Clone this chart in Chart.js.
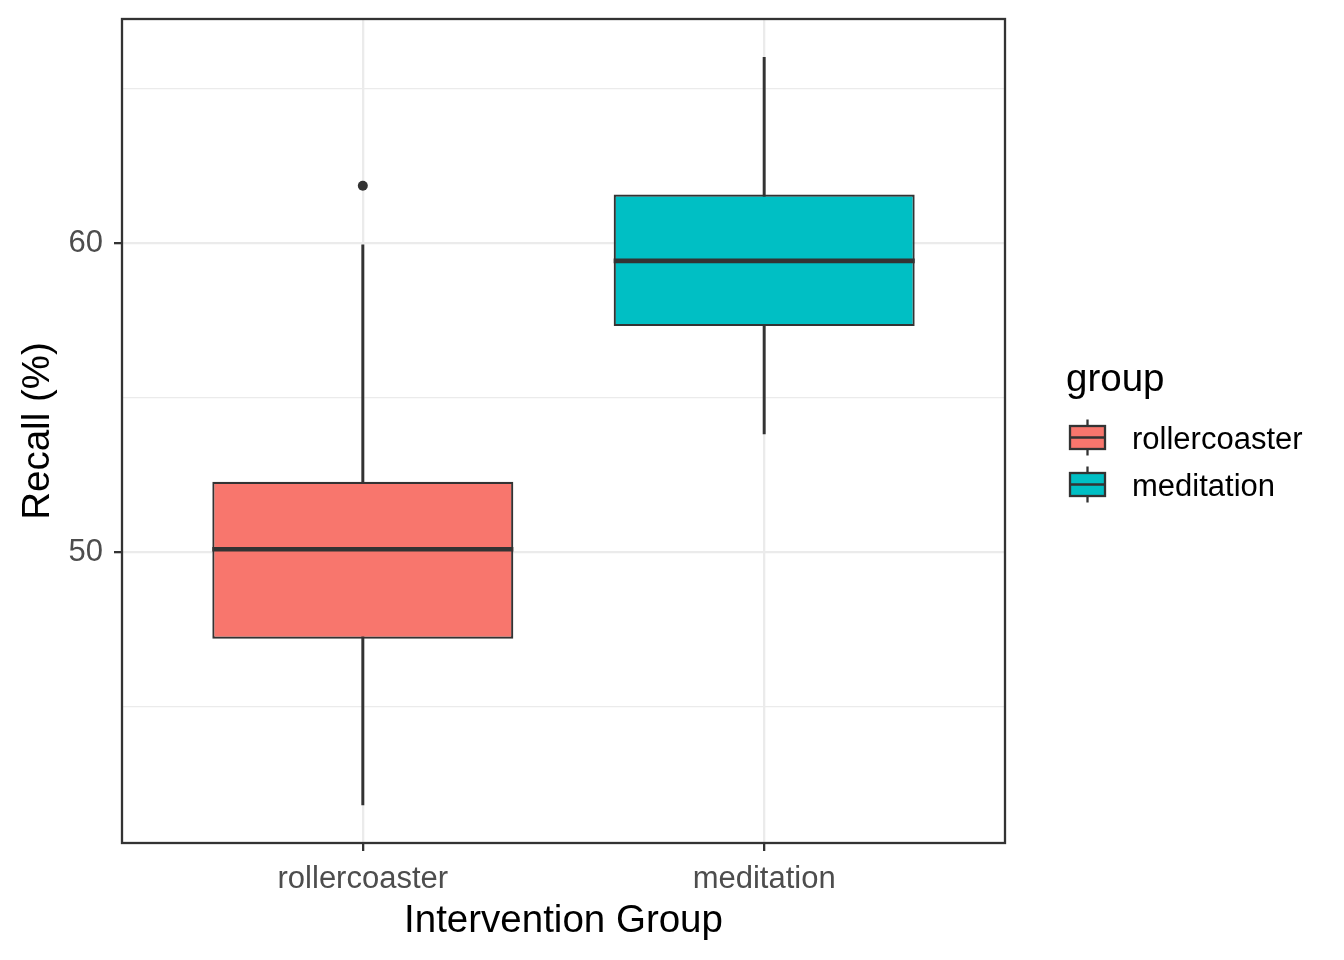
<!DOCTYPE html>
<html>
<head>
<meta charset="utf-8">
<script src="https://cdn.jsdelivr.net/npm/chart.js@4/dist/chart.umd.min.js"></script>
<style>
  html, body { margin: 0; padding: 0; background: #fff; }
  #wrap { width: 1344px; height: 960px; }
</style>
</head>
<body>
<div id="wrap"><canvas id="chart" width="1344" height="960"></canvas></div>
<script>
// ---- data ----
const groups = ['rollercoaster', 'meditation'];
const groupColors = ['#F8766D', '#00BFC4'];
const whiskerLow = [41.81, 53.82];
const q1 = [47.19, 57.31];
const medians = [50.09, 59.42];
const q3 = [52.27, 61.57];
const whiskerHigh = [59.94, 66.01];
const outlierGroup = [0];
const outlierValue = [61.85];
const yTicks = [45, 50, 55, 60, 65];
const yLabelled = [50, 60];

const INK = '#333333';
Chart.defaults.font.family = '"Liberation Sans", Arial, sans-serif';

// medians, panel border and legend
const boxExtras = {
    id: 'boxExtras',
    afterDatasetsDraw(chart) {
        const { ctx, chartArea, scales } = chart;
        const boxes = chart.getDatasetMeta(1).data;
        ctx.save();
        ctx.strokeStyle = INK;
        ctx.lineWidth = 4.6;
        boxes.forEach((bar, i) => {
            const py = scales.y.getPixelForValue(medians[i]);
            ctx.beginPath();
            ctx.moveTo(bar.x - bar.width / 2, py);
            ctx.lineTo(bar.x + bar.width / 2, py);
            ctx.stroke();
        });
        ctx.lineWidth = 2.3;
        ctx.strokeRect(chartArea.left, chartArea.top, chartArea.width, chartArea.height);
        ctx.restore();
    },
    afterDraw(chart) {
        const ctx = chart.ctx;
        ctx.save();
        ctx.fillStyle = '#000';
        ctx.textBaseline = 'alphabetic';
        ctx.font = '38.5px "Liberation Sans", Arial, sans-serif';
        ctx.fillText('group', 1066, 391);
        ctx.font = '31px "Liberation Sans", Arial, sans-serif';
        groups.forEach((g, i) => {
            const cy = 437.5 + i * 47;
            // whisker
            ctx.strokeStyle = INK;
            ctx.lineWidth = 2.3;
            ctx.beginPath();
            ctx.moveTo(1087.5, cy - 18);
            ctx.lineTo(1087.5, cy + 18);
            ctx.stroke();
            // box
            ctx.fillStyle = groupColors[i];
            ctx.fillRect(1070, cy - 11.5, 35, 23);
            ctx.strokeRect(1070, cy - 11.5, 35, 23);
            // median
            ctx.beginPath();
            ctx.moveTo(1070, cy);
            ctx.lineTo(1105, cy);
            ctx.stroke();
            ctx.fillStyle = '#000';
            ctx.fillText(g, 1132, cy + 11.5);
        });
        ctx.restore();
    }
};

new Chart(document.getElementById('chart'), {
    type: 'bar',
    data: {
        datasets: [
            {
                label: 'whiskers',
                data: groups.map((g, i) => ({ x: i + 1, y: [whiskerLow[i], whiskerHigh[i]] })),
                backgroundColor: INK,
                borderWidth: 0,
                barThickness: 2.3,
                grouped: false,
                order: 2
            },
            {
                label: 'boxes',
                data: groups.map((g, i) => ({ x: i + 1, y: [q1[i], q3[i]] })),
                backgroundColor: groupColors,
                borderColor: INK,
                borderWidth: 2.2,
                borderSkipped: false,
                barPercentage: 0.75,
                categoryPercentage: 1,
                grouped: false,
                order: 1
            },
            {
                type: 'scatter',
                label: 'outliers',
                data: outlierGroup.map((g, i) => ({ x: g + 1, y: outlierValue[i] })),
                backgroundColor: INK,
                borderWidth: 0,
                pointRadius: 5,
                order: 0
            }
        ]
    },
    options: {
        responsive: false,
        animation: false,
        devicePixelRatio: 1,
        layout: { padding: { left: 0, right: 339, top: 19, bottom: 0 } },
        plugins: {
            legend: { display: false },
            tooltip: { enabled: false }
        },
        scales: {
            x: {
                type: 'linear',
                min: 0.4,
                max: 2.6,
                offset: false,
                afterBuildTicks: s => { s.ticks = groups.map((g, i) => ({ value: i + 1 })); },
                afterFit: s => { s.height = 117; s.paddingLeft = 0; s.paddingRight = 0; },
                grid: {
                    offset: false,
                    color: '#EBEBEB',
                    lineWidth: 2.3,
                    tickColor: INK,
                    tickWidth: 2.3,
                    tickLength: 8
                },
                border: { display: false },
                ticks: {
                    autoSkip: false,
                    maxRotation: 0,
                    padding: 10,
                    color: '#4D4D4D',
                    font: { size: 31 },
                    callback: v => groups[Math.round(v) - 1] || ''
                },
                title: {
                    display: true,
                    text: 'Intervention Group',
                    color: '#000',
                    font: { size: 38.5 },
                    padding: { top: 0, bottom: 16 }
                }
            },
            y: {
                min: 40.58,
                max: 67.25,
                afterBuildTicks: s => { s.ticks = yTicks.map(v => ({ value: v })); },
                afterFit: s => { s.width = 122; s.paddingTop = 0; s.paddingBottom = 0; },
                grid: {
                    color: '#EBEBEB',
                    lineWidth: c => (yLabelled.includes(c.tick.value) ? 2.3 : 1.2),
                    tickColor: c => (yLabelled.includes(c.tick.value) ? INK : 'rgba(0,0,0,0)'),
                    tickWidth: 2.3,
                    tickLength: 8
                },
                border: { display: false },
                ticks: {
                    autoSkip: false,
                    padding: 11,
                    color: '#4D4D4D',
                    font: { size: 31 },
                    callback: v => (yLabelled.includes(v) ? String(v) : '')
                },
                title: {
                    display: true,
                    text: 'Recall (%)',
                    color: '#000',
                    font: { size: 38.5 },
                    padding: { top: 15, bottom: 0 }
                }
            }
        }
    },
    plugins: [boxExtras]
});
</script>
</body>
</html>
